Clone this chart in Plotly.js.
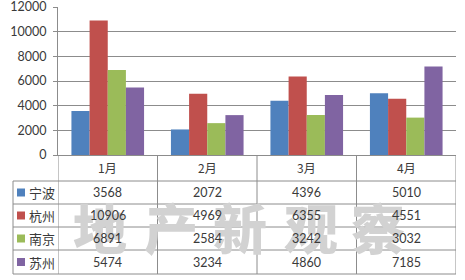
<!DOCTYPE html>
<html>
<head>
<meta charset="utf-8">
<script src="https://cdn.plot.ly/plotly-3.0.1.min.js"></script>
<style>html,body{margin:0;padding:0;background:#fff;}#chart{width:465px;height:280px;}</style>
</head>
<body>
<div id="chart"></div>
<script>
const months = ['1月', '2月', '3月', '4月'];
const cities = ['宁波', '杭州', '南京', '苏州'];
const ningbo = [3568, 2072, 4396, 5010];
const hangzhou = [10906, 4969, 6355, 4551];
const nanjing = [6891, 2584, 3242, 3032];
const suzhou = [5474, 3234, 4860, 7185];
const colors = ['#4F81BD', '#C0504D', '#9BBB59', '#8064A2'];
const watermark = ['地', '产', '新', '观', '察'];
const yTicks = [0, 2000, 4000, 6000, 8000, 10000, 12000];
const yTickText = ['0', '2000', '4000', '6000', '8000', '10000', '12000'];

const series = [ningbo, hangzhou, nanjing, suzhou];

const W = 465, H = 280;
const M = {l: 13, r: 9, t: 7, b: 6};
const PW = W - M.l - M.r, PH = H - M.t - M.b;
const fx = px => (px - M.l) / PW;
const fy = py => (H - M.b - py) / PH;

const lineCol = '#8c8c8c';
const textCol = '#3a3a3a';
const numFont = 'Lato, "Noto Sans", sans-serif';
const cjkFont = '"Noto Sans CJK SC", sans-serif';

const traces = cities.map((c, i) => ({
  type: 'bar',
  name: c,
  x: months,
  y: series[i],
  marker: {color: colors[i], line: {width: 0}},
  hoverinfo: 'skip'
}));

const rowLines = [181, 204, 227, 250, 274];
const rowCenters = [192.5, 215.5, 238.5, 262];
const shapes = [];
rowLines.forEach(py => shapes.push({type: 'line', xref: 'paper', yref: 'paper', x0: 0, x1: 1, y0: fy(py), y1: fy(py), line: {color: lineCol, width: 1}}));
shapes.push({type: 'line', xref: 'paper', yref: 'paper', x0: 0, x1: 0, y0: fy(181), y1: fy(274), line: {color: lineCol, width: 1}});
[-0.5, 0.5, 1.5, 2.5, 3.5].forEach(xv => shapes.push({type: 'line', xref: 'x', yref: 'paper', x0: xv, x1: xv, y0: fy(274), y1: fy(155), line: {color: lineCol, width: 1}}));
colors.forEach((col, i) => shapes.push({type: 'rect', xref: 'paper', yref: 'paper', x0: fx(17), x1: fx(25), y0: fy(rowCenters[i] + 4), y1: fy(rowCenters[i] - 4), fillcolor: col, line: {width: 0}}));

const annotations = [];
const wmX = [100, 171, 240, 311, 378];
watermark.forEach((ch, i) => annotations.push({
  xref: 'paper', yref: 'paper', x: fx(wmX[i]), y: fy(226), text: ch, showarrow: false,
  xanchor: 'center', yanchor: 'middle',
  font: {family: cjkFont, size: 54, color: '#d2d2d2', weight: 900}
}));
months.forEach((m, j) => annotations.push({
  xref: 'x', yref: 'paper', x: j, y: fy(168), text: m, showarrow: false,
  xanchor: 'center', yanchor: 'middle', font: {family: cjkFont, size: 12, color: textCol}
}));
cities.forEach((c, i) => {
  annotations.push({
    xref: 'paper', yref: 'paper', x: fx(27), y: fy(rowCenters[i]), text: c, showarrow: false,
    xanchor: 'left', yanchor: 'middle', font: {family: cjkFont, size: 13, color: textCol}
  });
  series[i].forEach((v, j) => annotations.push({
    xref: 'x', yref: 'paper', x: j, y: fy(rowCenters[i]), text: String(v), showarrow: false,
    xanchor: 'center', yanchor: 'middle', font: {family: numFont, size: 12.5, color: textCol}
  }));
});

const layout = {
  width: W, height: H,
  margin: M,
  paper_bgcolor: '#ffffff', plot_bgcolor: '#ffffff',
  showlegend: false,
  barmode: 'group', bargap: 0.27, bargroupgap: 0,
  xaxis: {
    domain: [fx(58), 1], range: [-0.5, 3.5], type: 'category',
    showticklabels: false, ticks: '', showgrid: false, zeroline: false,
    showline: true, linecolor: lineCol, linewidth: 1, fixedrange: true
  },
  yaxis: {
    domain: [fy(155), 1], range: [0, 12000], tickmode: 'array', tickvals: yTicks, ticktext: yTickText,
    ticks: 'outside', ticklen: 4, tickcolor: lineCol, tickwidth: 1,
    showgrid: true, gridcolor: lineCol, gridwidth: 1, zeroline: false,
    showline: true, linecolor: lineCol, linewidth: 1, ticklabeloverflow: 'allow',
    tickfont: {family: numFont, size: 12.5, color: textCol}, ticklabelstandoff: 4, fixedrange: true
  },
  shapes: shapes,
  annotations: annotations
};

Plotly.newPlot('chart', traces, layout, {displayModeBar: false, staticPlot: true});
</script>
</body>
</html>
